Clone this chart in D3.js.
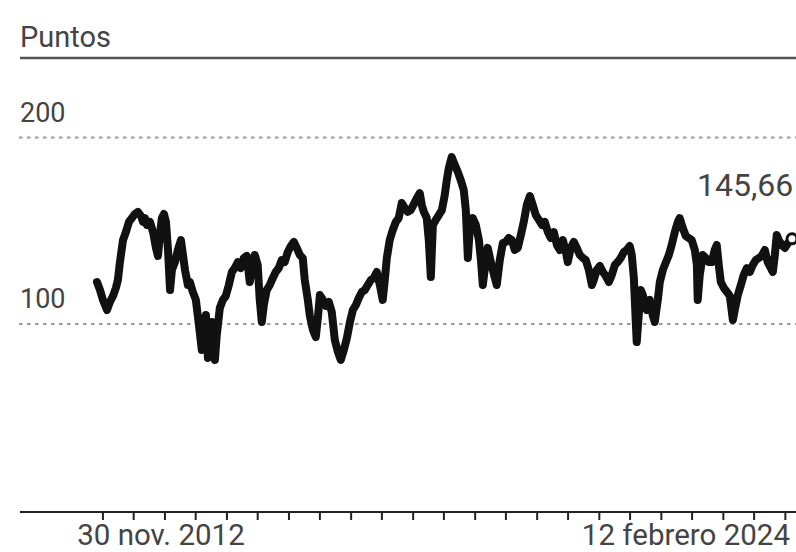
<!DOCTYPE html>
<html>
<head>
<meta charset="utf-8">
<script src="https://cdn.jsdelivr.net/npm/d3@7"></script>
<style>
  html, body { margin: 0; padding: 0; background: #fff; }
  svg { display: block; font-family: Roboto, "Noto Sans", sans-serif; }
</style>
</head>
<body>
<svg id="chart" width="796" height="552"></svg>
<script>
// Index level, in points
const unitLabel = "Puntos";
const yTicks = [100, 200];
const startLabel = "30 nov. 2012";
const endLabel = "12 febrero 2024";
const lastValueLabel = "145,66";

const dates = [
  "2012-11-30","2012-12-18","2013-01-04","2013-01-28","2013-02-14","2013-03-04","2013-03-21","2013-04-02",
  "2013-04-14","2013-05-02","2013-05-19","2013-06-06","2013-06-23","2013-07-11","2013-07-29","2013-08-16",
  "2013-08-28","2013-09-08","2013-09-20","2013-10-08","2013-10-26","2013-11-12","2013-11-24","2013-12-05",
  "2013-12-17","2013-12-29","2014-01-10","2014-01-22","2014-02-03","2014-02-14","2014-03-04","2014-03-21",
  "2014-04-08","2014-04-20","2014-05-02","2014-05-19","2014-05-31","2014-06-17","2014-07-05","2014-07-23",
  "2014-08-09","2014-08-21","2014-09-02","2014-09-14","2014-09-25","2014-10-07","2014-10-25","2014-11-05",
  "2014-11-23","2014-12-11","2014-12-28","2015-01-15","2015-02-02","2015-02-19","2015-03-09","2015-03-26",
  "2015-04-13","2015-05-01","2015-05-18","2015-05-30","2015-06-17","2015-07-04","2015-07-16","2015-07-28",
  "2015-08-09","2015-08-26","2015-09-13","2015-10-01","2015-10-18","2015-11-05","2015-11-22","2015-12-10",
  "2015-12-28","2016-01-15","2016-02-02","2016-02-19","2016-03-08","2016-03-25","2016-04-06","2016-04-24",
  "2016-05-06","2016-05-24","2016-06-10","2016-06-22","2016-07-04","2016-07-22","2016-08-08","2016-08-26",
  "2016-09-12","2016-09-30","2016-10-18","2016-11-04","2016-11-22","2016-12-10","2016-12-28","2017-01-14",
  "2017-02-01","2017-02-18","2017-03-08","2017-03-25","2017-04-12","2017-04-30","2017-05-17","2017-06-04",
  "2017-06-22","2017-07-09","2017-07-21","2017-08-02","2017-08-19","2017-09-06","2017-09-24","2017-10-11",
  "2017-10-29","2017-11-16","2017-12-03","2017-12-21","2018-01-08","2018-01-26","2018-02-12","2018-02-24",
  "2018-03-08","2018-03-25","2018-04-06","2018-04-18","2018-04-30","2018-05-17","2018-06-04","2018-06-22",
  "2018-07-09","2018-07-21","2018-08-02","2018-08-19","2018-09-06","2018-09-24","2018-10-11","2018-10-29",
  "2018-11-10","2018-11-22","2018-12-03","2018-12-21","2019-01-08","2019-01-26","2019-02-07","2019-02-18",
  "2019-03-08","2019-03-19","2019-04-06","2019-04-18","2019-04-30","2019-05-11","2019-05-29","2019-06-16",
  "2019-07-03","2019-07-21","2019-08-08","2019-08-25","2019-09-12","2019-09-30","2019-10-17","2019-11-04",
  "2019-11-22","2019-12-09","2019-12-27","2020-01-14","2020-02-01","2020-02-18","2020-03-07","2020-03-24",
  "2020-04-11","2020-04-29","2020-05-16","2020-06-03","2020-06-21","2020-07-02","2020-07-20","2020-08-07",
  "2020-08-24","2020-09-11","2020-09-29","2020-10-16","2020-11-03","2020-11-21","2020-12-02","2020-12-20",
  "2021-01-07","2021-01-25","2021-02-11","2021-03-01","2021-03-18","2021-04-05","2021-04-22","2021-05-10",
  "2021-05-28","2021-06-14","2021-07-02","2021-07-14","2021-07-26","2021-08-06","2021-08-12","2021-08-24",
  "2021-09-05","2021-09-17","2021-09-28","2021-10-10","2021-10-28","2021-11-14","2021-11-26","2021-12-14",
  "2021-12-26","2022-01-13","2022-01-31","2022-02-17","2022-03-06","2022-03-24","2022-04-11","2022-04-22",
  "2022-05-10","2022-05-28","2022-06-14","2022-07-02","2022-07-20","2022-08-01","2022-08-06","2022-08-18",
  "2022-09-05","2022-09-22","2022-10-10","2022-10-28","2022-11-14","2022-11-26","2022-12-08","2022-12-20",
  "2023-01-07","2023-01-25","2023-02-11","2023-03-01","2023-03-12","2023-03-30","2023-04-17","2023-05-04",
  "2023-05-22","2023-06-09","2023-06-26","2023-07-14","2023-08-01","2023-08-18","2023-09-05","2023-09-22",
  "2023-10-10","2023-10-22","2023-11-03","2023-11-14","2023-11-26","2023-12-14","2024-01-01","2024-01-19",
  "2024-02-12"
];

const values = [
  122.5,118.2,112.9,107.5,111.8,115.0,119.3,123.6,
  133.2,145.0,149.3,154.7,156.8,159.0,160.1,157.9,
  154.7,156.8,153.1,154.7,149.3,140.8,136.5,147.7,
  156.8,159.0,154.7,139.7,118.2,129.0,133.2,139.7,
  145.0,137.0,129.0,120.9,122.5,117.2,112.9,99.5,
  86.1,96.8,104.8,81.8,91.4,101.1,80.7,94.1,
  108.6,112.9,115.0,120.9,127.9,130.0,133.2,130.0,
  135.4,136.5,122.5,129.0,137.0,131.6,112.9,101.1,
  110.2,118.2,120.9,124.7,127.9,130.0,134.3,133.2,
  138.6,141.8,144.0,140.8,137.0,135.4,123.6,112.9,
  104.3,96.8,93.0,103.2,115.5,112.9,109.7,111.8,
  106.4,91.4,85.0,80.7,86.1,92.5,101.1,107.5,
  110.2,113.9,117.2,118.2,120.9,123.6,124.7,127.9,
  120.9,112.9,123.6,135.4,145.0,150.4,154.7,156.8,
  164.9,162.2,160.1,161.1,164.3,167.6,170.2,163.8,
  160.1,156.8,145.0,125.2,153.1,155.8,158.4,161.1,
  169.2,177.2,183.6,189.5,185.3,181.5,177.2,171.8,
  161.1,135.4,150.4,156.8,153.1,145.0,134.3,120.9,
  134.3,140.8,133.2,129.0,124.7,120.9,134.3,143.4,
  144.0,146.1,145.0,139.7,140.8,147.7,154.7,163.8,
  168.6,163.8,158.4,155.8,153.1,154.7,149.3,146.1,
  149.3,142.4,139.7,145.0,138.6,133.2,140.8,144.0,
  140.8,137.0,135.4,134.3,129.0,120.9,123.6,129.0,
  131.1,127.9,125.7,122.5,126.3,131.6,133.2,135.4,
  138.6,139.7,141.8,137.0,124.7,102.1,90.3,104.8,
  118.2,115.5,110.2,107.5,112.9,104.8,101.1,112.9,
  122.5,129.0,133.2,137.0,142.4,149.3,154.7,156.8,
  151.5,147.2,146.1,145.0,139.7,131.6,112.9,126.3,
  137.0,135.4,133.2,133.2,139.7,142.4,131.6,122.5,
  119.3,117.2,115.0,102.1,107.5,115.5,120.9,126.3,
  130.0,127.9,131.6,134.3,135.4,136.5,139.7,133.2,
  130.0,127.9,137.0,147.7,145.0,142.4,140.8,143.4,
  145.66
];

const parse = d3.timeParse("%Y-%m-%d");
const series = dates.map((d, i) => ({ date: parse(d), value: values[i] }));

const svg = d3.select("#chart");
const W = 796;

const x = d3.scaleTime()
  .domain(d3.extent(series, d => d.date))
  .range([97, 792]);

const y = d3.scaleLinear()
  .domain([100, 200])
  .range([324, 137.5]);

const textColor = "#444";

// Unit header and rule beneath it
svg.append("text")
  .attr("x", 20).attr("y", 47)
  .attr("font-size", 29)
  .attr("fill", textColor)
  .text(unitLabel);

svg.append("line")
  .attr("x1", 20).attr("x2", W)
  .attr("y1", 58).attr("y2", 58)
  .attr("stroke", "#555").attr("stroke-width", 2.5);

// Dotted gridlines with their values
const grid = svg.append("g");
grid.selectAll("line").data(yTicks).join("line")
  .attr("x1", 19).attr("x2", W)
  .attr("y1", d => y(d)).attr("y2", d => y(d))
  .attr("stroke", "#9a9a9a")
  .attr("stroke-width", 2.2)
  .attr("stroke-dasharray", "3.5,4.5");

grid.selectAll("text").data(yTicks).join("text")
  .attr("x", 20)
  .attr("y", d => y(d) - 16)
  .attr("font-size", 27)
  .attr("fill", textColor)
  .text(d => d);

// Time axis: base rule, half-year ticks
svg.append("line")
  .attr("x1", 20).attr("x2", W)
  .attr("y1", 512).attr("y2", 512)
  .attr("stroke", "#222").attr("stroke-width", 2);

const axis = d3.axisBottom(x)
  .ticks(d3.timeMonth.every(6))
  .tickSize(8)
  .tickFormat("");

const axisG = svg.append("g")
  .attr("transform", "translate(0,512)")
  .call(axis);
axisG.select(".domain").remove();
axisG.selectAll(".tick line").attr("stroke", "#222").attr("stroke-width", 2);

svg.append("text")
  .attr("x", 161).attr("y", 545)
  .attr("text-anchor", "middle")
  .attr("font-size", 29.5)
  .attr("fill", textColor)
  .text(startLabel);

svg.append("text")
  .attr("x", 790).attr("y", 545)
  .attr("text-anchor", "end")
  .attr("font-size", 29.5)
  .attr("fill", textColor)
  .text(endLabel);

// Index line
const line = d3.line()
  .x(d => x(d.date))
  .y(d => y(d.value));

svg.append("path")
  .datum(series)
  .attr("fill", "none")
  .attr("stroke", "#111")
  .attr("stroke-width", 8)
  .attr("stroke-linejoin", "round")
  .attr("stroke-linecap", "round")
  .attr("d", line);

// Last value marker and label
const last = series[series.length - 1];
svg.append("circle")
  .attr("cx", x(last.date))
  .attr("cy", y(last.value))
  .attr("r", 5)
  .attr("fill", "#fff")
  .attr("stroke", "#111")
  .attr("stroke-width", 3);

svg.append("text")
  .attr("x", 697).attr("y", 196)
  .attr("font-size", 32)
  .attr("fill", textColor)
  .text(lastValueLabel);
</script>
</body>
</html>
